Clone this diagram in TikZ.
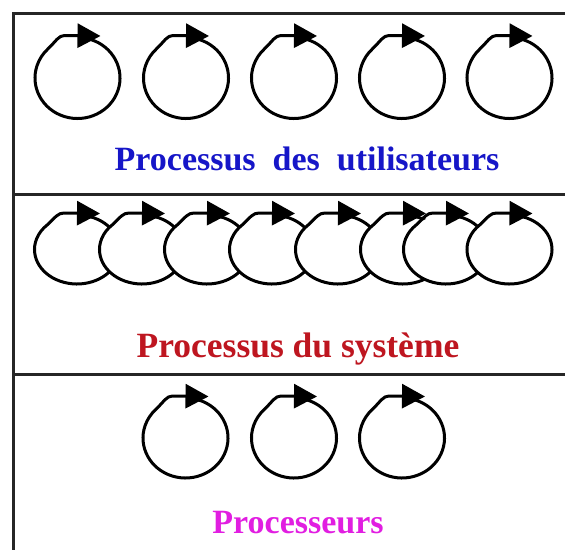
\documentclass[tikz,border=0pt]{standalone}
\usepackage{fontspec}
\setmainfont{Liberation Serif}
\usetikzlibrary{arrows.meta}

\definecolor{userblue}{RGB}{22,22,200}
\definecolor{sysred}{RGB}{190,22,32}
\definecolor{cpumagenta}{RGB}{225,30,225}

\tikzset{
  frameline/.style={line width=3pt, draw=black!85},
  cycleline/.style={line width=3pt, line join=round,
    -{Triangle[length=23pt,width=24pt]}},
  caption/.style={font=\bfseries\fontsize{34}{40}\selectfont,
    anchor=base, inner sep=0pt},
  % a looping process: an open ellipse closed by a right-pointing arrow on top
  pics/cycle/.style n args={2}{code={
    \fill[white] (0,0) ellipse[x radius=#1, y radius=#2];
    \draw[cycleline] (-72:#1 and #2)
      arc[start angle=-72, end angle=226, x radius=#1, y radius=#2]
      .. controls +(8,-7.6) and (-19,{-#2-2}) .. (-13,{-#2-2})
      -- (23,{-#2-1.5});
  }}
}

\begin{document}
\begin{tikzpicture}[x=1pt, y=-1pt]
  \useasboundingbox (0,0) rectangle (565,549);
  \clip (0,0) rectangle (565,549);

  % frame and band separators
  \draw[frameline] (13,560) -- (13,13) -- (575,13);
  \draw[frameline] (13,194) -- (575,194);
  \draw[frameline] (13,374) -- (575,374);

  % user processes
  \foreach \cx in {77.5,186,294,402,509.5}
    \pic at (\cx,78) {cycle={42.5}{40.5}};
  \node[caption, text=userblue] (users) at (307,170)
    {Processus\ \ des\ \ utilisateurs};

  % system processes (overlapping)
  \foreach \cx in {77,142,207,272,338,403,446,509.5}
    \pic at (\cx,249.5) {cycle={42.5}{34.5}};
  \node[caption, text=sysred, font=\bfseries\fontsize{35.5}{40}\selectfont]
    (system) at (298,357) {Processus du système};

  % processors
  \foreach \cx in {185.5,294,402}
    \pic at (\cx,438) {cycle={42.5}{40}};
  \node[caption, text=cpumagenta] (cpus) at (298,533) {Processeurs};
\end{tikzpicture}
\end{document}
